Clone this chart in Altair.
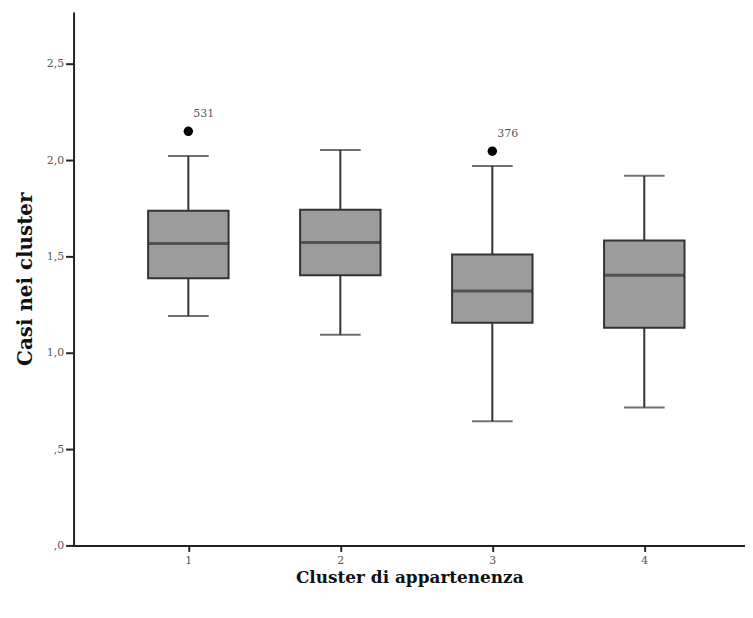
import altair as alt
import pandas as pd

clusters = [1, 2, 3, 4]
q1 = [1.387, 1.402, 1.155, 1.129]
median = [1.567, 1.572, 1.320, 1.402]
q3 = [1.737, 1.742, 1.510, 1.582]
whisk_lo = [1.191, 1.093, 0.644, 0.716]
whisk_hi = [2.021, 2.052, 1.969, 1.918]

outlier_cluster = [1, 3]
outlier_value = [2.149, 2.046]
outlier_label = ["531", "376"]

box_df = pd.DataFrame({
    "cluster": clusters, "q1": q1, "median": median, "q3": q3,
    "lo": whisk_lo, "hi": whisk_hi,
})
out_df = pd.DataFrame({"cluster": outlier_cluster, "value": outlier_value, "label": outlier_label})

serif = "DejaVu Serif"
xscale = alt.Scale(domain=[0.2774, 4.63], nice=False, zero=False)
yscale = alt.Scale(domain=[0, 2.768], nice=False, zero=True)

ylabel_expr = "datum.value < 1 ? ',' + format(datum.value*10, 'd') : replace(format(datum.value, '.1f'), '.', ',')"

x_enc = alt.X("cluster:Q", scale=xscale,
              axis=alt.Axis(values=clusters, format="d", title="Cluster di appartenenza",
                            grid=False, domainColor="#222", domainWidth=2,
                            tickColor="#222", tickWidth=2, tickSize=6,
                            labelFont=serif, labelFontSize=11, labelColor="#555",
                            labelPadding=3, titleFont=serif, titleFontSize=17,
                            titleFontWeight="bold", titleColor="#111", titlePadding=4))

base = alt.Chart(box_df)

whiskers = base.mark_rule(color="#333", strokeWidth=2).encode(
    x=x_enc,
    y=alt.Y("lo:Q", scale=yscale,
            axis=alt.Axis(values=[0, 0.5, 1.0, 1.5, 2.0, 2.5], labelExpr=ylabel_expr,
                          title="Casi nei cluster", grid=False, domainColor="#222",
                          domainWidth=2, tickColor="#222", tickWidth=2, tickSize=8,
                          labelFont=serif, labelFontSize=11, labelColor="#555",
                          labelPadding=2, titleFont=serif, titleFontSize=20,
                          titleFontWeight="bold", titleColor="#111", titlePadding=11)),
    y2="hi:Q",
)

caps_lo = base.mark_tick(color="#333", orient="horizontal", size=41, thickness=2).encode(
    x=alt.X("cluster:Q", scale=xscale), y=alt.Y("lo:Q", scale=yscale))
caps_hi = base.mark_tick(color="#333", orient="horizontal", size=41, thickness=2).encode(
    x=alt.X("cluster:Q", scale=xscale), y=alt.Y("hi:Q", scale=yscale))

boxes = base.mark_bar(orient="vertical", size=81, color="#9c9c9c", stroke="#333",
                      strokeWidth=2).encode(
    x=alt.X("cluster:Q", scale=xscale), y=alt.Y("q1:Q", scale=yscale), y2="q3:Q")

medians = base.mark_tick(color="#333", orient="horizontal", size=81, thickness=3).encode(
    x=alt.X("cluster:Q", scale=xscale), y=alt.Y("median:Q", scale=yscale))

outliers = alt.Chart(out_df).mark_point(filled=True, color="#000", size=90, opacity=1).encode(
    x=alt.X("cluster:Q", scale=xscale), y=alt.Y("value:Q", scale=yscale))

labels = alt.Chart(out_df).mark_text(font=serif, fontSize=11, color="#555", align="left",
                                     dx=5, dy=-17).encode(
    x=alt.X("cluster:Q", scale=xscale), y=alt.Y("value:Q", scale=yscale), text="label:N")

chart = alt.layer(whiskers, caps_lo, caps_hi, boxes, medians, outliers, labels).properties(
    width=676, height=537,
    autosize=alt.AutoSizeParams(type="none"),
    padding={"left": 66, "top": 2, "right": 0, "bottom": 70},
).configure(background="white").configure_view(strokeWidth=0, stroke="transparent")

chart.save("out.html", embed_options={"renderer": "svg", "actions": False})
